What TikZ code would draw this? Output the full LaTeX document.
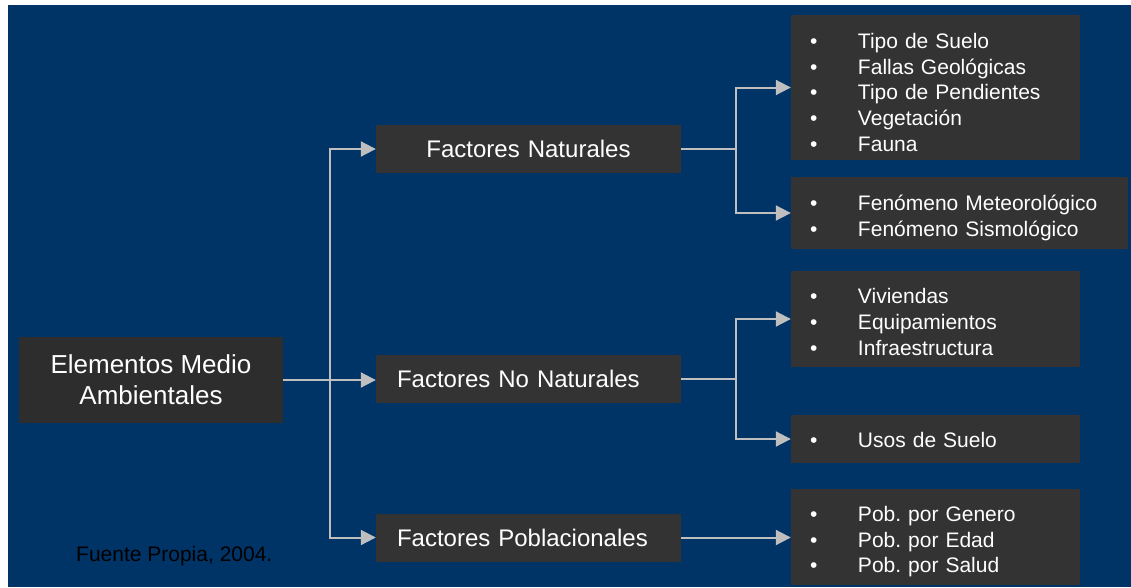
\documentclass[tikz,border=0pt]{standalone}
\usepackage{fontspec}
\setmainfont{Liberation Sans}
\usetikzlibrary{arrows.meta,calc}
\frenchspacing
\definecolor{bgblue}{HTML}{003366}
\definecolor{boxgrey}{HTML}{333333}
\definecolor{maingrey}{HTML}{2D2D2D}
\definecolor{linegrey}{HTML}{BFBFBF}
\newcommand{\itm}[1]{\makebox[48pt][l]{•}#1}
\newcommand{\lsttop}[1][25pt]{\rule{0pt}{#1}}
\newcommand{\facttop}{\rule{0pt}{18pt}}
\tikzset{
  mainbox/.style={fill=maingrey, text=white, minimum width=264pt, minimum height=86pt, inner sep=0pt, align=center, font=\fontsize{26}{31}\selectfont},
  factbox/.style={fill=boxgrey, text=white, minimum height=48pt, inner xsep=21pt, inner ysep=0pt, text width=263pt, font=\fontsize{24}{28}\selectfont},
  listbox/.style={fill=boxgrey, text=white, inner xsep=19pt, inner ysep=0pt, align=left, font=\fontsize{21}{25.6}\selectfont},
  conn/.style={draw=linegrey, line width=2pt},
  arr/.style={conn, -{Triangle[length=15pt,width=15pt]}, color=linegrey},
}
\begin{document}
\begin{tikzpicture}[x=1pt,y=-1pt]
\useasboundingbox (0,0) rectangle (1131,587);
\fill[white] (0,0) rectangle (1131,587);
\fill[bgblue] (8,5) rectangle (1131,587);

\node[mainbox] (main) at (151,380) {Elementos Medio\\Ambientales};

\node[factbox, align=center] (nat) at (528.5,149) {\facttop Factores Naturales};
\node[factbox, align=left] (nonat) at (528.5,379) {\facttop Factores No Naturales};
\node[factbox, align=left] (pob) at (528.5,537.5) {\facttop Factores Poblacionales};

\node[listbox, text width=251pt, minimum height=145pt] (l1) at (935.5,87.5)
  {\lsttop\itm{Tipo de Suelo}\\\itm{Fallas Geológicas}\\\itm{Tipo de Pendientes}\\\itm{Vegetación}\\\itm{Fauna}};
\node[listbox, text width=299pt, minimum height=72pt] (l2) at (959.5,213)
  {\lsttop\itm{Fenómeno Meteorológico}\\\itm{Fenómeno Sismológico}};
\node[listbox, text width=251pt, minimum height=96pt] (l3) at (935.5,319)
  {\lsttop[21pt]\itm{Viviendas}\\\itm{Equipamientos}\\\itm{Infraestructura}};
\node[listbox, text width=251pt, minimum height=48pt] (l4) at (935.5,439)
  {\lsttop[17pt]\itm{Usos de Suelo}};
\node[listbox, text width=251pt, minimum height=96pt] (l5) at (935.5,537)
  {\lsttop\itm{Pob. por Genero}\\\itm{Pob. por Edad}\\\itm{Pob. por Salud}};

\node[anchor=base west, text=black, inner sep=0pt, font=\fontsize{21}{25}\selectfont] (src) at (76,561) {Fuente Propia, 2004.};

\coordinate (j1) at (330,380);
\coordinate (j2) at (736,149);
\coordinate (j3) at (736,379);

\draw[arr] (main.east) -- (main.east -| nonat.west);
\draw[arr] (j1) |- (nat.west);
\draw[arr] (j1) |- (pob.west);

\draw[conn] (nat.east) -- (j2);
\draw[arr] (j2) |- (l1.west);
\draw[arr] (j2) |- (l2.west);

\draw[conn] (nonat.east) -- (j3);
\draw[arr] (j3) |- (l3.west);
\draw[arr] (j3) |- (l4.west);

\draw[arr] (pob.east) -- (pob.east -| l5.west);
\end{tikzpicture}
\end{document}
